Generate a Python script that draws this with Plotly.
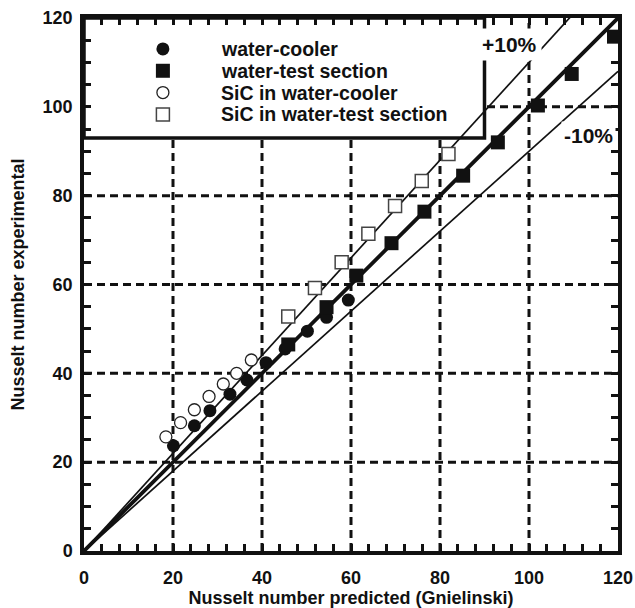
import plotly.graph_objects as go

# Nusselt number: predicted (Gnielinski) vs experimental
wc_pred = [20.1, 24.8, 28.3, 32.8, 36.6, 40.9, 45.2, 50.2, 54.5, 59.4]
wc_exp = [23.7, 28.2, 31.6, 35.3, 38.5, 42.4, 45.5, 49.5, 52.6, 56.5]

ts_pred = [45.9, 54.5, 61.2, 69.1, 76.5, 85.2, 93.0, 102.0, 109.6, 119.1]
ts_exp = [46.5, 54.9, 62.0, 69.3, 76.4, 84.5, 92.0, 100.3, 107.4, 115.8]

sic_wc_pred = [18.4, 21.7, 24.8, 28.1, 31.3, 34.3, 37.6]
sic_wc_exp = [25.7, 28.9, 31.8, 34.8, 37.6, 40.0, 43.0]

sic_ts_pred = [45.9, 51.9, 57.9, 63.9, 69.9, 75.9, 81.9]
sic_ts_exp = [52.8, 59.2, 65.0, 71.4, 77.7, 83.3, 89.4]

series_names = ["water-cooler", "water-test section",
                "SiC in water-cooler", "SiC in water-test section"]

# reference lines: y = x and the +/-10 % band
band_ratios = [1.0, 1.1, 0.9]
band_labels = ["+10%", "-10%"]
axis_max = 120
grid_ticks = list(range(20, axis_max, 20))

FONT = "Liberation Sans"
INK = "#111"

fig = go.Figure()

for r in band_ratios:
    fig.add_trace(go.Scatter(
        x=[0, axis_max], y=[0, axis_max * r], mode="lines",
        line=dict(color=INK, width=3.8 if r == 1.0 else 1.7),
        showlegend=False, hoverinfo="skip"))

marker_styles = [
    dict(symbol="circle", size=13, color=INK, line=dict(width=0)),
    dict(symbol="square", size=14, color=INK, line=dict(width=0)),
    dict(symbol="circle", size=12, color="white", line=dict(width=1.3, color="#222")),
    dict(symbol="square", size=13, color="white", line=dict(width=1.5, color="#444")),
]
series = [(wc_pred, wc_exp), (ts_pred, ts_exp),
          (sic_wc_pred, sic_wc_exp), (sic_ts_pred, sic_ts_exp)]
for (xs, ys), name, mk in zip(series, series_names, marker_styles):
    fig.add_trace(go.Scatter(x=xs, y=ys, mode="markers", name=name,
                             marker=mk, cliponaxis=False, showlegend=False))

# dashed grid drawn as shapes so the key frame can sit on top of it
for g in grid_ticks:
    fig.add_shape(type="line", xref="x", yref="y", x0=g, x1=g, y0=0, y1=axis_max,
                  line=dict(color=INK, width=3, dash="8px,5px"), layer="below")
    fig.add_shape(type="line", xref="x", yref="y", x0=0, x1=axis_max, y0=g, y1=g,
                  line=dict(color=INK, width=3, dash="8px,5px"), layer="below")

# key frame (fractions of the plotting area)
KEY_X1, KEY_Y0 = 0.75, 0.775
fig.add_shape(type="rect", xref="x", yref="y",
              x0=0, x1=KEY_X1 * axis_max, y0=KEY_Y0 * axis_max, y1=axis_max,
              line=dict(color=INK, width=3.5), fillcolor="white", layer="below")

# key rows live on a second axis pair spanning the key frame
key_rows = [0, 1, 2, 3]
KEY_SYMBOL_X, KEY_TEXT_X = 0.197, 0.34
for row, name, mk in zip(key_rows, series_names, marker_styles):
    fig.add_trace(go.Scatter(x=[KEY_SYMBOL_X], y=[row], mode="markers",
                             marker=mk, xaxis="x2", yaxis="y2",
                             cliponaxis=False, showlegend=False, hoverinfo="skip"))
    fig.add_annotation(x=KEY_TEXT_X, y=row, xref="x2", yref="y2", text=name,
                       showarrow=False, xanchor="left", yanchor="middle",
                       borderpad=0,
                       font=dict(family=FONT, size=19.5, color=INK, weight="bold"))

fig.add_annotation(x=95.7, y=114, text=band_labels[0], showarrow=False,
                   font=dict(family=FONT, size=21, color=INK, weight="bold"),
                   bgcolor="white", borderpad=4)
fig.add_annotation(x=113.3, y=93.5, text=band_labels[1], showarrow=False,
                   font=dict(family=FONT, size=21, color=INK, weight="bold"),
                   bgcolor="white", borderpad=2)


def main_axis(title, minor_step, label_gap, title_gap):
    return dict(
        range=[0, axis_max], dtick=20, showline=True, linewidth=3.5, linecolor=INK,
        mirror="ticks", ticks="inside", ticklen=7, tickwidth=2.5, tickcolor=INK,
        showgrid=False, zeroline=False, ticklabelstandoff=label_gap,
        tickfont=dict(family=FONT, size=18, color=INK, weight="bold"),
        minor=dict(dtick=minor_step, ticks="inside", ticklen=7, tickwidth=2.5,
                   tickcolor=INK, showgrid=False),
        title=dict(text=title, standoff=title_gap,
                   font=dict(family=FONT, size=18, color=INK, weight="bold")),
        domain=[0, 1],
    )


fig.update_layout(
    width=635, height=608,
    margin=dict(l=84, r=17, t=18, b=57, autoexpand=False),
    paper_bgcolor="white", plot_bgcolor="rgba(0,0,0,0)",
    showlegend=False,
    xaxis=main_axis("Nusselt number predicted (Gnielinski)", 4, 8, 6),
    yaxis=main_axis("Nusselt number experimental", 5, 4, 14),
    xaxis2=dict(domain=[0, KEY_X1], range=[0, 1], anchor="y2",
                visible=False, fixedrange=True),
    yaxis2=dict(domain=[KEY_Y0, 1], range=[4.08, -1.42], anchor="x2",
                visible=False, fixedrange=True),
)

fig.write_html("out.html")
